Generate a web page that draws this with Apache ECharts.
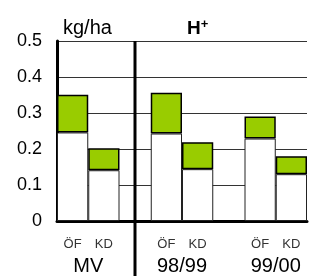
<!DOCTYPE html>
<html>
<head>
<meta charset="utf-8">
<script src="https://cdn.jsdelivr.net/npm/echarts@6/dist/echarts.min.js"></script>
<style>
  html, body { margin: 0; padding: 0; background: #fff; }
  #main { width: 310px; height: 276px; }
</style>
</head>
<body>
<div id="main"></div>
<script>
  // bar slots: two bars per period with an empty slot between periods
  var categories = ['ÖF', 'KD', '', 'ÖF', 'KD', ' ', 'ÖF', 'KD'];
  var baseValues = [0.246, 0.141, null, 0.243, 0.144, null, 0.229, 0.130];
  var extraValues = [0.105, 0.061, null, 0.113, 0.075, null, 0.061, 0.050];
  var groupLabels = ['MV', '98/99', '99/00'];
  var groupPos = [1, 4, 7];
  var yTicks = [0, 0.1, 0.2, 0.3, 0.4, 0.5];

  var font = 'Liberation Sans, Arial, sans-serif';
  var chart = echarts.init(document.getElementById('main'));

  var option = {
    animation: false,
    title: [
      {
        text: 'kg/ha',
        left: 58, top: 13,
        textStyle: { fontFamily: font, fontSize: 20, fontWeight: 'normal', color: '#000' }
      },
      {
        text: 'H{sup|+}',
        left: 182, top: 13,
        textStyle: {
          fontFamily: font, fontSize: 19, fontWeight: 'bold', color: '#000',
          rich: { sup: { fontFamily: font, fontSize: 13, fontWeight: 'bold', verticalAlign: 'top', padding: [0, 0, 9, 0] } }
        }
      }
    ],
    grid: { left: 57, right: 0, top: 41, bottom: 54, containLabel: false },
    xAxis: [
      {
        type: 'category',
        data: categories,
        axisLine: { lineStyle: { color: '#000', width: 3 } },
        axisTick: { show: false },
        axisLabel: { interval: 0, margin: 17, fontFamily: font, fontSize: 13, color: '#333' },
        splitLine: { show: false }
      },
      {
        type: 'value',
        position: 'bottom',
        min: 0, max: 8, interval: 1,
        axisLine: { show: false },
        axisTick: { show: false },
        splitLine: { show: false },
        axisLabel: {
          margin: 35, fontFamily: font, fontSize: 20, color: '#000',
          showMinLabel: true, showMaxLabel: true,
          formatter: function (v) {
            var i = groupPos.indexOf(v);
            return i >= 0 ? groupLabels[i] : '';
          }
        }
      }
    ],
    yAxis: {
      type: 'value',
      min: yTicks[0], max: yTicks[yTicks.length - 1], interval: 0.1,
      axisLine: { show: true, lineStyle: { color: '#000', width: 3 } },
      axisTick: { show: false },
      axisLabel: {
        margin: 15, fontFamily: font, fontSize: 18, color: '#000',
        formatter: function (v) { return v === 0 ? '0' : v.toFixed(1); }
      },
      splitLine: { lineStyle: { color: '#333', width: 1 } }
    },
    series: [
      {
        type: 'bar',
        stack: 'h',
        barCategoryGap: '0%',
        data: baseValues,
        itemStyle: { color: '#fff', borderColor: '#222', borderWidth: 1 }
      },
      {
        type: 'bar',
        stack: 'h',
        barCategoryGap: '0%',
        data: extraValues,
        itemStyle: { color: '#99cc00', borderColor: '#000', borderWidth: 1.5 }
      }
    ],
    graphic: [
      {
        type: 'line',
        shape: { x1: 135, y1: 41, x2: 135, y2: 276 },
        style: { stroke: '#000', lineWidth: 3 },
        z: 100
      }
    ]
  };

  chart.setOption(option);
</script>
</body>
</html>
